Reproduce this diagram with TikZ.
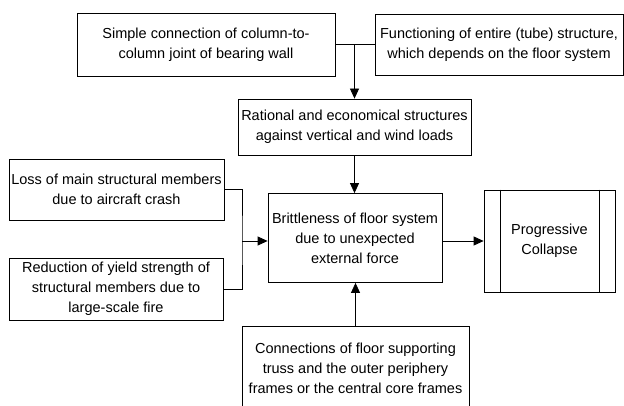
\documentclass[tikz,border=0pt]{standalone}
\usepackage{fontspec}
\setmainfont{Liberation Sans}
\usetikzlibrary{arrows.meta}
\begin{document}
\begin{tikzpicture}[x=1pt,y=-1pt,
	box/.style={draw,line width=0.8pt,align=center,inner sep=0pt,font=\fontsize{14.5}{20}\selectfont},
	link/.style={line width=0.8pt},
	flow/.style={link,-{Triangle[length=10pt,width=9pt]}}]
	\clip (0,0) rectangle (624,406);
	\node[box,minimum width=258pt,minimum height=63pt] (simple) at (206,44.5) {Simple connection of column-to-\\column joint of bearing wall};
	\node[box,minimum width=248pt,minimum height=61pt] (tube) at (499,44.5) {Functioning of entire (tube) structure,\\which depends on the floor system};
	\node[box,minimum width=233pt,minimum height=56pt] (rational) at (354.5,127) {Rational and economical structures\\against vertical and wind loads};
	\node[box,minimum width=174pt,minimum height=89pt] (brittle) at (355,238) {Brittleness of floor system\\due to unexpected\\external force};
	\node[box,minimum width=215pt,minimum height=61pt] (loss) at (116.5,189.5) {Loss of main structural members\\due to aircraft crash};
	\node[box,minimum width=214pt,minimum height=62pt] (fire) at (116,289) {Reduction of yield strength of\\structural members due to\\large-scale fire};
	\node[box,minimum width=131pt,minimum height=102pt] (collapse) at (549.5,241) {Progressive\\Collapse};
	\node[box,minimum width=227pt,minimum height=84pt] (truss) at (355.5,368) {Connections of floor supporting\\truss and the outer periphery\\frames or the central core frames};
	\draw[link] ([xshift=17pt]collapse.north west) -- ([xshift=17pt]collapse.south west);
	\draw[link] ([xshift=-16pt]collapse.north east) -- ([xshift=-16pt]collapse.south east);
	\coordinate (join) at (242,241);
	\draw[link] (simple.east) -- (tube.west);
	\draw[flow] (simple.east -| rational.north) -- (rational.north);
	\draw[flow] (rational.south) -- (rational.south |- brittle.north);
	\draw[link] (loss.east) -| (join) |- (fire.east);
	\draw[flow] (join) -- (join -| brittle.west);
	\draw[flow] (brittle.east |- collapse.west) -- (collapse.west);
	\draw[flow] (truss.north) -- (truss.north |- brittle.south);
\end{tikzpicture}
\end{document}
